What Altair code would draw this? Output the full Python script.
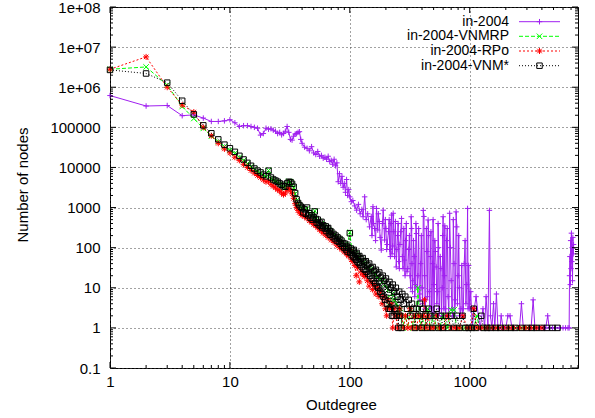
import altair as alt
import pandas as pd

W, H = 468, 361
FONT = "Liberation Sans"
FS = 15
LEGEND_FS = 14

NAMES = ["in-2004", "in-2004-VNMRP", "in-2004-RPo", "in-2004-VNM*"]
COLORS = ["#a020f0", "#00ff00", "#ff0000", "#000000"]

# (outdegree, number of nodes)
PURPLE = [
    (1, 6.2e5), (2, 3.4e5), (3, 3.5e5), (4, 1.95e5), (5, 2.05e5), (6, 1.7e5), (7, 1.4e5), (8, 1.4e5),
    (9, 1.45e5), (10, 1.55e5), (11, 1.3e5), (12, 1.05e5), (13, 1.1e5), (14, 1.1e5), (15, 1.05e5),
    (16, 1.0e5), (17, 9.5e4), (18, 6.4e4), (19, 7.0e4), (20, 9.5e4), (21, 9.0e4), (22, 9.2e4),
    (23, 8.5e4), (24, 8.0e4), (25, 7.0e4), (26, 7.5e4), (27, 6.5e4), (28, 7.0e4), (29, 8.0e4),
    (30, 1.05e5), (31, 7.5e4), (32, 5.0e4), (33, 4.8e4), (34, 6.0e4), (35, 6.8e4), (36, 7.0e4),
    (37, 7.5e4), (38, 7.8e4), (39, 5.0e4), (40, 4.0e4), (42, 3.2e4), (44, 3.0e4), (46, 2.6e4),
    (48, 3.3e4), (50, 2.3e4), (52, 2.1e4), (54, 2.5e4), (56, 1.9e4), (58, 2.0e4), (60, 1.7e4),
    (62, 1.8e4), (64, 1.6e4), (66, 1.9e4), (68, 1.4e4), (70, 1.5e4), (72, 1.2e4), (74, 1.6e4),
    (76, 1.1e4), (78, 1.3e4), (80, 4.4e3), (82, 7.0e3), (84, 4.0e3), (86, 6.0e3), (88, 3.2e3),
    (90, 4.0e3), (92, 2.4e3), (94, 5.0e3), (96, 2.0e3), (98, 2.8e3), (100, 1850), (103, 1400),
    (106, 1500), (110, 1100), (114, 860), (118, 1200), (122, 700), (126, 900), (129, 590),
    (133, 1850), (137, 500), (141, 700), (146, 330), (151, 600), (153, 200), (156, 1050),
    (158, 400), (161, 300), (164, 150), (167, 950), (171, 275), (173, 700), (176, 450),
    (179, 180), (183, 87), (187, 400), (190, 860), (195, 155), (198, 500), (200, 300), (203, 90),
    (205, 120), (210, 250), (213, 500), (215, 90), (218, 60), (220, 400), (223, 650), (225, 70),
    (228, 110), (230, 720), (233, 250), (236, 60), (240, 450), (244, 33), (247, 90), (250, 200),
    (253, 400), (256, 45), (259, 30), (262, 120), (266, 250), (270, 535), (274, 60), (278, 30),
    (282, 300), (285, 49), (289, 20), (292, 150), (296, 400), (300, 25), (305, 30), (310, 90),
    (314, 200), (318, 20), (322, 10), (325, 590), (328, 300), (330, 40), (333, 8), (336, 15),
    (340, 150), (345, 60), (348, 6), (352, 12), (356, 400), (360, 225), (365, 10), (370, 20),
    (375, 300), (380, 7), (385, 5), (390, 40), (395, 200), (400, 10), (405, 4), (410, 850),
    (415, 600), (420, 20), (425, 3), (430, 5), (435, 300), (440, 80), (445, 6), (450, 490),
    (455, 200), (460, 8), (465, 3), (470, 60), (475, 250), (480, 3.3), (485, 2), (490, 40),
    (495, 500), (500, 12), (505, 2), (512, 150), (518, 80), (525, 33), (532, 4), (540, 8),
    (545, 400), (550, 100), (555, 3), (560, 2.3), (568, 60), (575, 30), (582, 2), (590, 10),
    (595, 200), (600, 590), (608, 3), (615, 20), (620, 350), (625, 3), (632, 2), (640, 150),
    (650, 300), (660, 6), (670, 2), (680, 720), (690, 100), (700, 15), (710, 3), (720, 2),
    (730, 500), (740, 40), (750, 2), (760, 5), (770, 780), (780, 330), (790, 4), (800, 20),
    (810, 200), (820, 10), (830, 2), (845, 3), (858, 36), (870, 2), (885, 3), (900, 40),
    (915, 150), (930, 4), (945, 12), (960, 950), (970, 3), (980, 36), (1000, 3), (1020, 8),
    (1050, 1), (1090, 3), (1130, 6), (1180, 2), (1220, 1), (1290, 3), (1330, 1), (1370, 6),
    (1420, 1), (1460, 850), (1490, 2), (1530, 1), (1580, 4), (1620, 1), (1670, 7), (1720, 1),
    (1790, 1), (1830, 2), (1900, 1), (2000, 1), (2080, 2), (2170, 2), (2250, 1), (2330, 1),
    (2450, 1), (2600, 1), (2700, 4), (2800, 1), (2930, 1), (3100, 1), (3250, 1), (3380, 5),
    (3500, 1), (3600, 1), (3800, 1), (4100, 1), (4300, 1), (4470, 2), (4600, 1), (4900, 1),
    (5200, 1), (5600, 1), (6000, 1), (6300, 1), (6600, 1), (6750, 1), (6800, 20), (6850, 60),
    (6900, 12), (6950, 150), (7000, 30), (7050, 230), (7100, 45), (7150, 100), (7200, 15),
    (7250, 180), (7300, 70), (7350, 120),
]

GREEN = [
    (1, 2.8e6), (2, 3.2e6), (3, 1.13e6), (4, 3.3e5), (5, 1.66e5), (6, 9.4e4), (7, 6.0e4),
    (8, 4.4e4), (9, 3.3e4), (10, 2.7e4), (11, 2.25e4), (12, 1.8e4), (13, 1.5e4), (14, 1.25e4),
    (15, 1.05e4), (16, 9.0e3), (17, 8.0e3), (18, 7.2e3), (19, 6.4e3), (20, 5.8e3), (21, 8.4e3),
    (22, 5.2e3), (23, 4.8e3), (24, 4.4e3), (25, 4.2e3), (26, 3.8e3), (27, 3.5e3), (28, 3.2e3),
    (29, 3.1e3), (30, 3.9e3), (31, 4.5e3), (32, 4.3e3), (33, 3.7e3), (34, 3.1e3), (35, 2.2e3),
    (36, 1.5e3), (37, 1.25e3), (38, 1.1e3), (39, 1.0e3), (40, 950), (42, 880), (44, 950),
    (46, 700), (48, 620), (50, 540), (51, 820), (52, 500), (55, 450), (58, 400), (61, 340),
    (64, 300), (67, 270), (70, 240), (74, 210), (78, 180), (82, 160), (86, 140), (90, 120),
    (95, 105), (100, 240), (104, 88), (108, 80), (112, 70), (116, 62), (120, 56), (125, 48),
    (130, 42), (136, 38), (142, 33), (148, 29), (155, 25), (162, 22), (170, 19), (178, 16),
    (186, 14), (195, 12), (205, 10), (215, 3.3), (225, 7), (235, 5), (245, 4), (255, 2),
    (265, 3), (275, 1), (290, 2), (305, 1), (320, 3), (340, 1), (355, 2), (370, 10), (385, 1),
    (400, 2), (420, 1), (445, 3), (470, 1), (500, 2), (530, 1), (560, 1), (600, 2), (650, 1),
    (700, 2.8), (740, 2.8), (780, 1), (850, 1), (920, 1), (1000, 1), (1080, 1), (1150, 2),
    (1200, 1), (1350, 1), (1500, 1), (1700, 1), (1900, 1), (2100, 1), (2400, 1), (2700, 1),
    (3000, 1), (3500, 1),
]

RED = [
    (1, 2.8e6), (2, 5.7e6), (3, 1.0e6), (4, 3.6e5), (5, 2.4e5), (6, 1.0e5), (7, 6.2e4),
    (8, 4.0e4), (9, 2.9e4), (10, 2.3e4), (11, 1.8e4), (12, 1.5e4), (13, 1.2e4), (14, 1.0e4),
    (15, 8.4e3), (16, 7.2e3), (17, 6.3e3), (18, 5.6e3), (19, 4.9e3), (20, 4.4e3), (21, 4.6e3),
    (22, 3.8e3), (23, 3.4e3), (24, 3.1e3), (25, 2.8e3), (26, 2.6e3), (27, 2.3e3), (28, 2.1e3),
    (29, 2.3e3), (30, 2.8e3), (31, 3.0e3), (32, 2.6e3), (33, 2.2e3), (34, 1.7e3), (35, 1.25e3),
    (36, 1.0e3), (37, 850), (38, 760), (39, 700), (40, 640), (42, 590), (44, 540), (46, 470),
    (48, 430), (50, 380), (52, 350), (54, 320), (56, 280), (58, 260), (60, 230), (63, 205),
    (66, 180), (70, 155), (74, 135), (78, 115), (82, 100), (86, 90), (90, 78), (94, 70),
    (97, 62), (100, 90), (103, 50), (106, 45), (110, 36), (113, 20), (116, 32), (120, 14),
    (124, 26), (128, 22), (132, 19), (136, 21), (140, 15), (145, 11), (150, 14), (155, 9),
    (160, 12), (165, 7), (170, 10), (175, 6), (180, 8), (186, 4), (192, 6), (198, 3), (203, 2),
    (208, 5), (215, 3), (222, 4), (228, 1), (235, 3), (242, 2), (250, 1), (260, 3), (270, 2),
    (280, 1), (292, 2), (305, 1), (318, 3), (330, 1), (345, 2), (360, 1), (375, 2), (390, 1),
    (410, 2), (420, 5), (430, 1), (450, 2), (470, 1), (500, 1), (530, 2), (560, 1), (600, 1),
    (650, 2), (700, 1), (760, 1), (820, 1), (880, 2), (950, 1), (1020, 1), (1080, 3), (1150, 1),
    (1250, 1), (1400, 1), (1550, 1), (1700, 1), (1900, 1), (2100, 1), (2300, 1), (2600, 1),
    (2900, 1), (3200, 1), (3600, 1), (4000, 1),
]

BLACK = [
    (1, 2.7e6), (2, 2.2e6), (3, 1.3e6), (4, 4.6e5), (5, 2.1e5), (6, 1.12e5), (7, 7.1e4),
    (8, 5.0e4), (9, 3.7e4), (10, 3.0e4), (11, 2.45e4), (12, 1.95e4), (13, 1.58e4), (14, 1.3e4),
    (15, 1.1e4), (16, 9.4e3), (17, 8.3e3), (18, 7.5e3), (19, 6.6e3), (20, 6.0e3), (21, 8.3e3),
    (22, 5.6e3), (23, 5.0e3), (24, 4.7e3), (25, 4.4e3), (26, 4.0e3), (27, 3.7e3), (28, 3.4e3),
    (29, 3.3e3), (30, 4.0e3), (31, 4.4e3), (32, 4.3e3), (33, 3.9e3), (34, 3.3e3), (35, 2.3e3),
    (36, 1.6e3), (37, 1.3e3), (38, 1.15e3), (39, 1.05e3), (40, 980), (41, 760), (42, 900),
    (43, 700), (44, 1000), (45, 640), (46, 720), (47, 560), (48, 640), (49, 500), (50, 560),
    (51, 800), (52, 520), (53, 420), (54, 500), (55, 380), (56, 420), (57, 350), (58, 440),
    (59, 320), (60, 360), (62, 300), (63, 340), (64, 260), (65, 300), (66, 310), (67, 230),
    (68, 260), (69, 210), (70, 250), (72, 190), (73, 220), (75, 170), (76, 200), (78, 150),
    (79, 180), (81, 140), (82, 165), (84, 125), (85, 150), (87, 110), (88, 130), (90, 100),
    (91, 125), (93, 90), (94, 110), (96, 80), (97, 100), (100, 230), (101, 75), (102, 95),
    (104, 65), (105, 84), (107, 60), (108, 88), (110, 55), (111, 70), (113, 50), (114, 74),
    (116, 45), (117, 60), (119, 42), (120, 62), (122, 38), (124, 52), (126, 34), (128, 55),
    (130, 30), (132, 44), (134, 28), (136, 46), (138, 25), (140, 37), (143, 22), (145, 40),
    (148, 20), (150, 31), (153, 17), (155, 33), (158, 15), (160, 26), (163, 13), (165, 28),
    (168, 11), (170, 22), (173, 10), (176, 24), (179, 8), (182, 18), (185, 7), (188, 20),
    (191, 6), (194, 15), (197, 5), (200, 17), (204, 4), (207, 12), (211, 3), (214, 14),
    (218, 3), (221, 10), (225, 2), (228, 12), (232, 2), (235, 8), (239, 3), (242, 10),
    (246, 2), (250, 6), (254, 1), (258, 8), (262, 2), (266, 5), (270, 1), (274, 7), (282, 4),
    (290, 6), (300, 3), (310, 5), (320, 2), (330, 4), (340, 3), (350, 1), (360, 3), (372, 2),
    (385, 4), (398, 1), (410, 3), (425, 2), (440, 1), (455, 3), (470, 2), (490, 1), (510, 2),
    (530, 3), (550, 1), (575, 2), (600, 1), (630, 2), (660, 1), (700, 2), (740, 1), (780, 2),
    (820, 1), (870, 2), (920, 1), (980, 1), (1040, 1), (1080, 3), (1130, 1), (1250, 2),
    (1300, 1), (1400, 1), (1500, 1), (1650, 1), (1800, 1), (2000, 1), (2200, 1), (2400, 1),
    (2700, 1), (3000, 1), (3300, 1), (3600, 1), (4000, 1), (4400, 1), (4900, 1), (5400, 1),
]

SERIES_DATA = [PURPLE, GREEN, RED, BLACK]
DASHES = [None, [4, 2], [2, 2], [1, 2]]
SHAPES = [
    "M-1,0L1,0M0,-1L0,1",
    "M-1,-1L1,1M1,-1L-1,1",
    "M-1,0L1,0M0,-1L0,1M-0.75,-0.75L0.75,0.75M0.75,-0.75L-0.75,0.75",
    "square",
]
SIZES = [30, 30, 36, 30]
LEGEND_Y = [14.7, 29.3, 44.0, 58.7]

X_LABELS = [1, 10, 100, 1000]
Y_LABELS = [0.1, 1, 10, 100, 1e3, 1e4, 1e5, 1e6, 1e7, 1e8]
X_MINOR = [m * 10 ** e for e in range(0, 4) for m in range(2, 10) if m * 10 ** e <= 8000]
Y_MINOR = [m * 10.0 ** e for e in range(-1, 8) for m in range(2, 10)]

xs = alt.Scale(type="log", domain=[1, 8000], nice=False)
ys = alt.Scale(type="log", domain=[0.1, 1e8], nice=False)

xaxis = alt.Axis(
    values=X_LABELS, format="d", grid=True, gridDash=[1, 3], gridColor="#444", gridWidth=1,
    ticks=False, domain=False, labelFont=FONT, labelFontSize=FS, labelColor="#000",
    labelPadding=6, labelFlush=False, labelOverlap=False,
    title="Outdegree", titleFont=FONT, titleFontSize=FS, titleFontWeight="normal",
    titleColor="#000", titleX=231, titleY=41, titleAlign="center", titleBaseline="alphabetic",
)
yaxis = alt.Axis(
    values=Y_LABELS,
    labelExpr="datum.value >= 1000000 ? '1e+0' + round(log(datum.value) / LN10) : (datum.value < 1 ? '0.1' : format(datum.value, 'd'))",
    grid=True, gridDash=[1, 3], gridColor="#444", gridWidth=1,
    ticks=False, domain=False, labelFont=FONT, labelFontSize=FS, labelColor="#000",
    labelPadding=10, labelFlush=False, labelOverlap=False,
    title="Number of nodes", titleFont=FONT, titleFontSize=FS, titleFontWeight="normal",
    titleColor="#000", titleX=-83, titleY=177.5, titleAngle=270, titleAlign="center",
    titleBaseline="alphabetic",
)
X = alt.X("x:Q", scale=xs, axis=xaxis)
Y = alt.Y("y:Q", scale=ys, axis=yaxis)

layers = []
for name, data, color, dash, shape, size in zip(NAMES, SERIES_DATA, COLORS, DASHES, SHAPES, SIZES):
    df = pd.DataFrame(data, columns=["x", "y"])
    line_kw = dict(color=color, strokeWidth=1)
    if dash is not None:
        line_kw["strokeDash"] = dash
    layers.append(alt.Chart(df).mark_line(**line_kw).encode(x=X, y=Y))
    layers.append(
        alt.Chart(df).mark_point(shape=shape, filled=False, size=size, color=color,
                                 strokeWidth=1, opacity=1).encode(x=X, y=Y)
    )

# tick marks pointing inwards on all four sides
def xticks(vals, length):
    df = pd.DataFrame({"x": vals})
    return [
        alt.Chart(df).mark_rule(color="#000", strokeWidth=1).encode(
            x=X, y=alt.value(H - length), y2=alt.value(H)),
        alt.Chart(df).mark_rule(color="#000", strokeWidth=1).encode(
            x=X, y=alt.value(0), y2=alt.value(length)),
    ]

def yticks(vals, length):
    df = pd.DataFrame({"y": vals})
    return [
        alt.Chart(df).mark_rule(color="#000", strokeWidth=1).encode(
            y=Y, x=alt.value(0), x2=alt.value(length)),
        alt.Chart(df).mark_rule(color="#000", strokeWidth=1).encode(
            y=Y, x=alt.value(W - length), x2=alt.value(W)),
    ]

layers += xticks(X_LABELS, 6) + xticks(X_MINOR, 3) + yticks(Y_LABELS, 6) + yticks(Y_MINOR, 3)

# key (top right, text left of sample)
for name, color, dash, shape, size, ly in zip(NAMES, COLORS, DASHES, SHAPES, SIZES, LEGEND_Y):
    tdf = pd.DataFrame({"t": [name]})
    layers.append(
        alt.Chart(tdf).mark_text(align="right", baseline="middle", font=FONT, fontSize=LEGEND_FS,
                                 color="#000").encode(x=alt.value(399), y=alt.value(ly), text="t:N")
    )
    rule_kw = dict(color=color, strokeWidth=1)
    if dash is not None:
        rule_kw["strokeDash"] = dash
    layers.append(
        alt.Chart(tdf).mark_rule(**rule_kw).encode(x=alt.value(409), x2=alt.value(450), y=alt.value(ly))
    )
    layers.append(
        alt.Chart(tdf).mark_point(shape=shape, filled=False, size=size, color=color,
                                  strokeWidth=1, opacity=1).encode(x=alt.value(429.5), y=alt.value(ly))
    )

chart = (
    alt.layer(*layers)
    .properties(
        width=W, height=H,
        padding={"left": 110, "top": 7, "right": 17, "bottom": 50},
        autosize=alt.AutoSizeParams(type="none"),
        background="white",
    )
    .configure_view(stroke="#000", strokeWidth=1)
)

chart.save("out.html", embed_options={"renderer": "svg", "actions": False})
